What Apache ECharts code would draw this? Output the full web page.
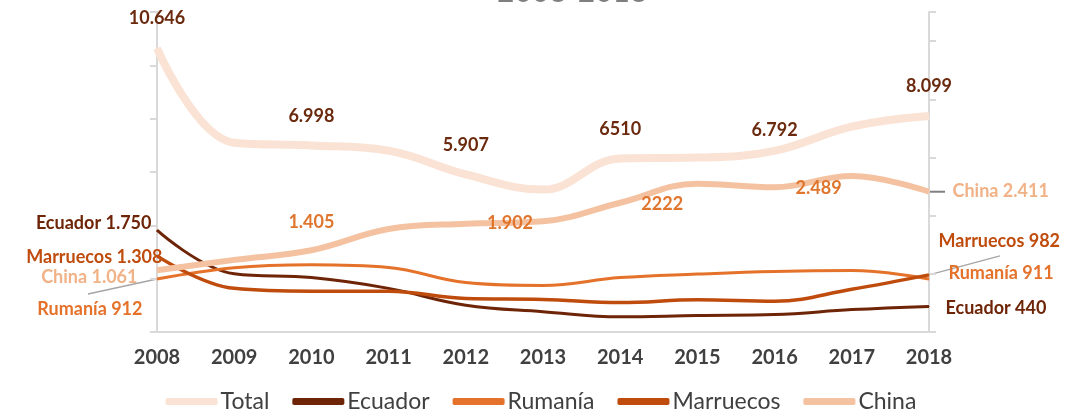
<!DOCTYPE html>
<html>
<head>
<meta charset="utf-8">
<script src="https://cdn.jsdelivr.net/npm/echarts@6/dist/echarts.min.js"></script>
<style>
  html, body { margin: 0; padding: 0; background: #fff; }
  #chart { width: 1082px; height: 413px; }
</style>
</head>
<body>
<div id="chart"></div>
<script>
var years = ['2008', '2009', '2010', '2011', '2012', '2013', '2014', '2015', '2016', '2017', '2018'];

var total     = [10646, 7100, 6998, 6800, 5907, 5340, 6510, 6540, 6792, 7700, 8099];
var ecuador   = [1750, 1000, 935, 750, 460, 350, 260, 285, 300, 385, 440];
var rumania   = [912, 1105, 1155, 1110, 850, 800, 935, 995, 1040, 1055, 911];
var marruecos = [1308, 750, 700, 700, 575, 560, 505, 555, 530, 735, 982];
var china     = [1061, 1240, 1405, 1770, 1860, 1902, 2222, 2550, 2489, 2680, 2411];

var totalLabels = ['10.646', '', '6.998', '', '5.907', '', '6510', '', '6.792', '', '8.099'];
var chinaLabels = ['China 1.061', '', '1.405', '', '', '1.902', '2222', '', '2.489', '', 'China 2.411'];
var ecuadorLabels = ['Ecuador 1.750', '', '', '', '', '', '', '', '', '', 'Ecuador 440'];
var rumaniaLabels = ['Rumanía 912', '', '', '', '', '', '', '', '', '', 'Rumanía 911'];
var marruecosLabels = ['Marruecos 1.308', '', '', '', '', '', '', '', '', '', 'Marruecos 982'];

var colTotal = '#fae3d4';
var colEcuador = '#6e2406';
var colRumania = '#e4722a';
var colMarruecos = '#bf4c0d';
var colChina = '#f4c2a0';

var font = 'Lato';

// data items with a label only where there is text
function withLabels(values, texts, color, place) {
  return values.map(function (v, i) {
    var t = texts[i];
    if (!t) return { value: v, label: { show: false } };
    var p = place[i] || { position: 'top', distance: 20 };
    return {
      value: v,
      label: Object.assign({
        show: true,
        formatter: t,
        color: p.color || color,
        fontFamily: font,
        fontWeight: 'bold',
        fontSize: 18
      }, p)
    };
  });
}

function lineSeries(name, axis, color, width, data) {
  return {
    name: name, type: 'line', yAxisIndex: axis, smooth: 0.4,
    symbol: 'circle', symbolSize: 1,
    lineStyle: { color: color, width: width },
    itemStyle: { color: color },
    data: data
  };
}

var myChart = echarts.init(document.getElementById('chart'));

var option = {
  animation: false,
  title: {
    text: '2008-2018',
    left: 492,
    top: -28,
    textStyle: { color: '#7f7f7f', fontSize: 30, fontWeight: 'normal', fontFamily: font }
  },
  legend: {
    bottom: -5,
    left: 'center',
    icon: 'roundRect',
    itemWidth: 52,
    itemHeight: 7,
    itemGap: 23,
    textStyle: { color: '#404040', fontSize: 23, fontFamily: font, padding: [0, 0, 0, -2] },
    data: ['Total', 'Ecuador', 'Rumanía', 'Marruecos', 'China']
  },
  grid: { left: 157, right: 153, top: 12, bottom: 81 },
  xAxis: {
    type: 'category',
    data: years,
    boundaryGap: false,
    axisLine: { lineStyle: { color: '#d9d9d9', width: 2 } },
    axisTick: { show: false },
    axisLabel: { color: '#404040', fontSize: 20, fontWeight: 'bold', fontFamily: font, margin: 16 }
  },
  yAxis: [
    {
      type: 'value', min: 0, max: 12000, interval: 2000,
      axisLine: { show: true, lineStyle: { color: '#d9d9d9', width: 2 } },
      axisTick: { show: true, length: 7, lineStyle: { color: '#d9d9d9', width: 2 } },
      axisLabel: { show: false },
      splitLine: { show: false }
    },
    {
      type: 'value', min: 0, max: 5500, interval: 1000,
      axisLine: { show: true, lineStyle: { color: '#d9d9d9', width: 2 } },
      axisTick: { show: true, length: 7, lineStyle: { color: '#d9d9d9', width: 2 } },
      axisLabel: { show: false },
      splitLine: { show: false }
    }
  ],
  series: [
    lineSeries('Total', 0, colTotal, 8,
      withLabels(total, totalLabels, '#6b2a0e', {
        8: { position: 'top', distance: 11 }
      })),
    lineSeries('Ecuador', 1, colEcuador, 3,
      withLabels(ecuador, ecuadorLabels, colEcuador, {
        0: { position: 'left', distance: 5, offset: [0, -7] },
        10: { position: 'right', distance: 16, offset: [0, 2] }
      })),
    lineSeries('Rumanía', 1, colRumania, 3,
      withLabels(rumania, rumaniaLabels, colRumania, {
        0: { position: 'left', distance: 14, offset: [0, 30] },
        10: { position: 'right', distance: 19, offset: [0, -6] }
      })),
    lineSeries('Marruecos', 1, colMarruecos, 3.5,
      withLabels(marruecos, marruecosLabels, colMarruecos, {
        0: { position: 'left', distance: 0, offset: [6, 1] },
        10: { position: 'right', distance: 9, offset: [0, -34] }
      })),
    lineSeries('China', 1, colChina, 6,
      withLabels(china, chinaLabels, '#e0762e', {
        0: { position: 'left', distance: 19, offset: [0, 7], color: '#f0b286' },
        2: { position: 'top', distance: 19 },
        5: { position: 'inside', offset: [-33, 2] },
        6: { position: 'inside', offset: [42, 1] },
        8: { position: 'inside', offset: [44, 1] },
        10: { position: 'right', distance: 23, offset: [0, -1], color: '#f0b286' }
      }))
  ]
};

myChart.setOption(option);

// leader lines from the end points to their moved labels
function leader(seriesValues, idx, dx, dy, color, width) {
  var p = myChart.convertToPixel({ xAxisIndex: 0, yAxisIndex: 1 }, [years[idx], seriesValues[idx]]);
  return {
    type: 'line',
    silent: true,
    shape: { x1: p[0], y1: p[1], x2: p[0] + dx, y2: p[1] + dy },
    style: { stroke: color, lineWidth: width }
  };
}

myChart.setOption({
  graphic: [
    leader(rumania, 0, -69, 15, '#a6a6a6', 1.5),
    leader(marruecos, 10, 71, -19, '#a6a6a6', 1.5),
    leader(china, 10, 16, 0, '#808080', 2)
  ]
});
</script>
</body>
</html>
